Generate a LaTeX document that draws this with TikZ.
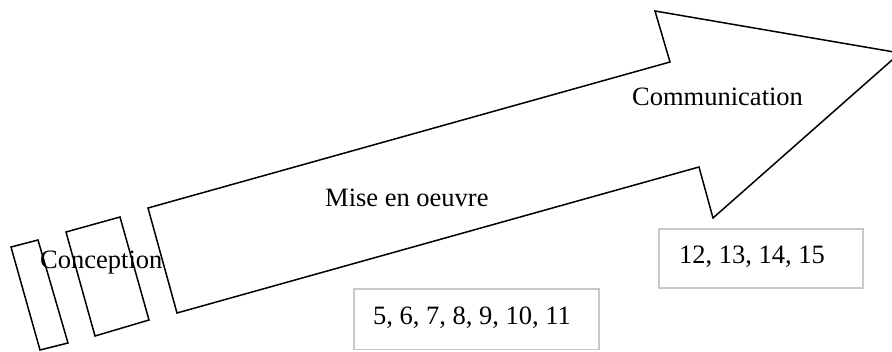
\documentclass[tikz,border=0pt]{standalone}
\usepackage{fontspec}
\setmainfont{Liberation Serif}
\definecolor{boxgray}{RGB}{200,200,200}
\begin{document}
\begin{tikzpicture}[x=1pt,y=-1pt,
  outline/.style={draw=black,line width=1.5pt,line join=miter},
  numbox/.style={draw=boxgray,line width=1.2pt},
  lbl/.style={font=\fontsize{26.5}{30}\selectfont,inner sep=0pt,anchor=base west}]
\useasboundingbox (0,0) rectangle (892,351);
% stacked blocks and arrow
\draw[outline] (11,247) -- (38,240) -- (68,343) -- (40,350) -- cycle;
\draw[outline] (66,232) -- (120,217) -- (149,320) -- (95,336) -- cycle;
\draw[outline] (148,208) -- (670,62) -- (655,11) -- (900,53) -- (713,218) -- (699,167) -- (177,313) -- cycle;
% number boxes
\draw[numbox] (354,289) rectangle (599,349.5);
\draw[numbox] (659,229) rectangle (863,288);
% labels
\node[lbl] (conc) at (40,268) {Conception};
\node[lbl] (mise) at (325,206) {Mise en oeuvre};
\node[lbl] (comm) at (632,105) {Communication};
\node[lbl] (n1) at (373,324) {5, 6, 7, 8, 9, 10, 11};
\node[lbl] (n2) at (679,263) {12, 13, 14, 15};
\end{tikzpicture}
\end{document}
